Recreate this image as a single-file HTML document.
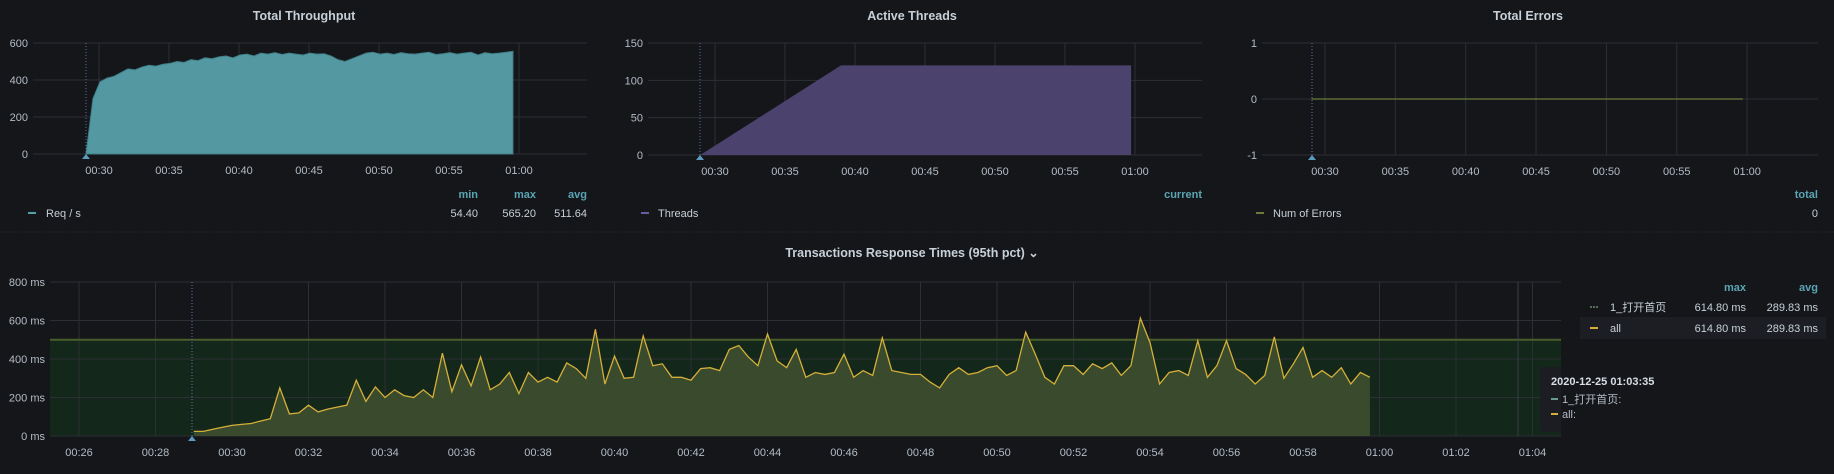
<!DOCTYPE html>
<html><head><meta charset="utf-8"><style>
html,body{margin:0;padding:0;background:#141619;}
svg{display:block;font-family:"Liberation Sans","Noto Sans CJK SC",sans-serif;}
.t{fill:#c7d0d9;font-size:12.5px;font-weight:bold;text-anchor:middle}
.tk{fill:#b4bcc7;font-size:11px}
.lh{fill:#5aa5b5;font-size:11px;font-weight:bold;text-anchor:end}
.lv{fill:#c7d0d9;font-size:11px}
</style></head><body>
<svg id="root" width="1834" height="474" viewBox="0 0 1834 474">
<rect width="1834" height="474" fill="#141619"/>
<line x1="0" y1="232" x2="1834" y2="232" stroke="#2a2d33" stroke-dasharray="1 2"/>
<g id="g1"></g><g id="g2"></g><g id="g3"></g><g id="g4"></g>
<text class="t" x="304" y="20">Total Throughput</text>
<text class="t" x="912" y="20">Active Threads</text>
<text class="t" x="1528" y="20">Total Errors</text>
<text class="t" x="912" y="257">Transactions Response Times (95th pct) ⌄</text>
<g>
<text class="lh" x="478" y="198">min</text><text class="lh" x="536" y="198">max</text><text class="lh" x="587" y="198">avg</text>
<line x1="28" y1="213" x2="36" y2="213" stroke="#56a0a8" stroke-width="2"/>
<text class="lv" x="46" y="217">Req / s</text>
<text class="lv" x="478" y="217" text-anchor="end">54.40</text><text class="lv" x="536" y="217" text-anchor="end">565.20</text><text class="lv" x="587" y="217" text-anchor="end">511.64</text>
</g>
<g>
<text class="lh" x="1202" y="198">current</text>
<line x1="641" y1="213" x2="649" y2="213" stroke="#6a5a9e" stroke-width="2"/>
<text class="lv" x="658" y="217">Threads</text>
</g>
<g>
<text class="lh" x="1818" y="198">total</text>
<line x1="1256" y1="213" x2="1264" y2="213" stroke="#6b7a3a" stroke-width="2"/>
<text class="lv" x="1273" y="217">Num of Errors</text>
<text class="lv" x="1818" y="217" text-anchor="end">0</text>
</g>
<g>
<text class="lh" x="1746" y="291">max</text><text class="lh" x="1818" y="291">avg</text>
<line x1="1590" y1="307" x2="1598" y2="307" stroke="#6a8a6a" stroke-width="1.5" stroke-dasharray="2 1"/>
<text class="lv" x="1610" y="311">1_打开首页</text>
<text class="lv" x="1746" y="311" text-anchor="end">614.80 ms</text><text class="lv" x="1818" y="311" text-anchor="end">289.83 ms</text>
<rect x="1580" y="317" width="246" height="22" fill="#1c1e23"/>
<line x1="1590" y1="328" x2="1598" y2="328" stroke="#d4b03a" stroke-width="2"/>
<text class="lv" x="1610" y="332">all</text>
<text class="lv" x="1746" y="332" text-anchor="end">614.80 ms</text><text class="lv" x="1818" y="332" text-anchor="end">289.83 ms</text>
</g>
</svg>
<script>
const tpStart = 29.07, tpStep = 0.5;
const tpValues = [0,300,390,410,420,440,460,455,470,480,475,485,490,500,495,510,505,520,515,525,530,520,535,540,530,545,540,548,538,545,540,535,545,540,542,530,510,500,515,530,545,550,540,545,538,548,542,540,545,550,538,542,548,540,545,550,535,548,542,545,550,555];
const tpTicks = [0,200,400,600];
const timeTicks5 = ["00:30","00:35","00:40","00:45","00:50","00:55","01:00"];
const thrTimes = [28.95, 39.0, 59.72];
const thrValues = [0, 120, 120];
const thrTicks = [0,50,100,150];
const errTimes = [29.05, 59.7];
const errValues = [0, 0];
const errTicks = [-1,0,1];
const rtStart = 29.0, rtStep = 0.25;
const rtValues = [24,24,35,45,55,60,65,78,90,250,115,120,160,125,140,150,160,290,180,255,200,240,210,200,240,200,430,230,370,260,410,240,270,330,220,330,280,305,280,380,350,300,555,270,415,300,305,520,365,375,305,305,290,350,355,340,450,470,410,365,530,390,355,450,305,330,320,330,425,305,340,315,510,340,330,320,320,280,250,320,355,320,330,355,365,315,340,540,425,305,270,365,365,320,375,350,380,315,365,612,485,270,330,340,315,495,305,365,495,350,320,270,315,515,300,375,460,305,340,305,355,270,330,305];
const rtTicks = [0,200,400,600,800];
const rtTimeTicks = ["00:26","00:28","00:30","00:32","00:34","00:36","00:38","00:40","00:42","00:44","00:46","00:48","00:50","00:52","00:54","00:56","00:58","01:00","01:02","01:04"];
const threshold = 500;

const NS="http://www.w3.org/2000/svg";
function mk(parent,tag,attrs){const e=document.createElementNS(NS,tag);for(const k in attrs)e.setAttribute(k,attrs[k]);parent.appendChild(e);return e;}
function toMin(s){const p=s.split(":");let h=+p[0],m=+p[1];return h*60+m;}

function panel(g, cfg){
  const {x0,x1,y0,y1,xs,ys,yt,yfmt,xt} = cfg;
  yt.forEach(v=>{
    const l=mk(g,'line',{x1:x0,x2:x1,y1:ys(v),y2:ys(v),stroke:'#2c2f35'});
    
    
    const t=mk(g,'text',{x:x0-5,y:ys(v)+4,'text-anchor':'end',class:'tk'});t.textContent=yfmt(v);
    
    
  });
  xt.forEach(s=>{
    const m=toMin(s); const X=xs(m);
    if(X<x0||X>x1) return;
    const l=mk(g,'line',{x1:X,x2:X,y1:y0,y2:y1,stroke:'#2c2f35'});
    
    
    const t=mk(g,'text',{x:X,y:y1+20,'text-anchor':'middle',class:'tk'});t.textContent=s;
    
    
  });
}
function annot(g,X,y0,y1){
  const l=mk(g,'line',{x1:X,x2:X,y1:y0,y2:y1,stroke:'#5a6fb0','stroke-dasharray':'1 2'});
  
  
  const p=mk(g,'path',{d:`M${X-4},${y1+5}L${X},${y1}L${X+4},${y1+5}Z`,fill:'#5b9bc0'});
  
  
}

(function(){
  const g=document.getElementById('g1');
  const xs=m=>99+(m-30)*14, ys=v=>154-v*111/600;
  panel(g,{x0:33,x1:587,y0:43,y1:154,xs,ys,yt:tpTicks,yfmt:v=>v,xt:timeTicks5});
  let d=`M${xs(tpStart)},${ys(0)}`;
  tpValues.forEach((v,i)=>{d+=`L${xs(tpStart+i*tpStep)},${ys(v)}`;});
  d+=`L${xs(tpStart+(tpValues.length-1)*tpStep)},${ys(0)}Z`;
  const a=mk(g,'path',{d,fill:'#5499a2',stroke:'#3f7f88','stroke-width':1});
  
  
  annot(g,86,43,154);
})();
(function(){
  const g=document.getElementById('g2');
  const xs=m=>715+(m-30)*14, ys=v=>155-v*112/150;
  panel(g,{x0:648,x1:1202,y0:43,y1:155,xs,ys,yt:thrTicks,yfmt:v=>v,xt:timeTicks5});
  let d=`M${xs(thrTimes[0])},${ys(0)}`;
  thrTimes.forEach((t,i)=>{d+=`L${xs(t)},${ys(thrValues[i])}`;});
  d+=`L${xs(thrTimes[thrTimes.length-1])},${ys(0)}Z`;
  const a=mk(g,'path',{d,fill:'#4b436d'});
  
  
  annot(g,700,43,155);
})();
(function(){
  const g=document.getElementById('g3');
  const xs=m=>1325+(m-30)*14.07, ys=v=>99-v*56;
  panel(g,{x0:1262,x1:1818,y0:43,y1:155,xs,ys,yt:errTicks,yfmt:v=>v,xt:timeTicks5});
  let d='';
  errTimes.forEach((t,i)=>{d+=(i?'L':'M')+xs(t)+','+ys(errValues[i]);});
  const l=mk(g,'path',{d,stroke:'#6b7a3a','stroke-width':1.2,fill:'none'});
  
  
  annot(g,1312,43,155);
})();
(function(){
  const g=document.getElementById('g4');
  const xs=m=>79+(m-26)*38.25, ys=v=>436-v*154/800;
  const band=mk(g,'rect',{x:50,y:ys(threshold),width:1511,height:ys(0)-ys(threshold),fill:'#13271b'});
  
  
  panel(g,{x0:50,x1:1561,y0:282,y1:436,xs,ys,yt:rtTicks,yfmt:v=>v+' ms',xt:rtTimeTicks});
  const tl=mk(g,'line',{x1:50,x2:1561,y1:ys(threshold),y2:ys(threshold),stroke:'#4a5e2c','stroke-width':2});
  
  
  let line='', n=rtValues.length;
  rtValues.forEach((v,i)=>{line+=(i?'L':'M')+xs(rtStart+i*rtStep).toFixed(1)+','+ys(v).toFixed(1);});
  const area=mk(g,'path',{d:line+`L${xs(rtStart+(n-1)*rtStep)},${ys(0)}L${xs(rtStart)},${ys(0)}Z`,fill:'#3a4a2c'});
  
  
  const pl=mk(g,'path',{d:line,fill:'none',stroke:'#d4b03a','stroke-width':1.3});
  
  
  const hv=mk(g,'line',{x1:1518,x2:1518,y1:282,y2:436,stroke:'#3a3d44'});
  
  
  annot(g,192,282,436);
  const tt=mk(g,'g',{});
  
  
  mk(tt,'rect',{x:1540,y:367,width:21,height:65,rx:3,fill:'#1b1d22'});
  const t1=mk(tt,'text',{x:1551,y:385,fill:'#d8dee6','font-size':'11px','font-weight':'bold'});t1.textContent='2020-12-25 01:03:35';
  mk(tt,'line',{x1:1551,x2:1558,y1:399,y2:399,stroke:'#6a9a8a','stroke-width':2});
  const t2=mk(tt,'text',{x:1562,y:403,fill:'#b4bcc7','font-size':'11px'});t2.textContent='1_打开首页:';
  mk(tt,'line',{x1:1551,x2:1558,y1:414,y2:414,stroke:'#d4b03a','stroke-width':2});
  const t3=mk(tt,'text',{x:1562,y:418,fill:'#b4bcc7','font-size':'11px'});t3.textContent='all:';
})();
</script>
</body></html>
